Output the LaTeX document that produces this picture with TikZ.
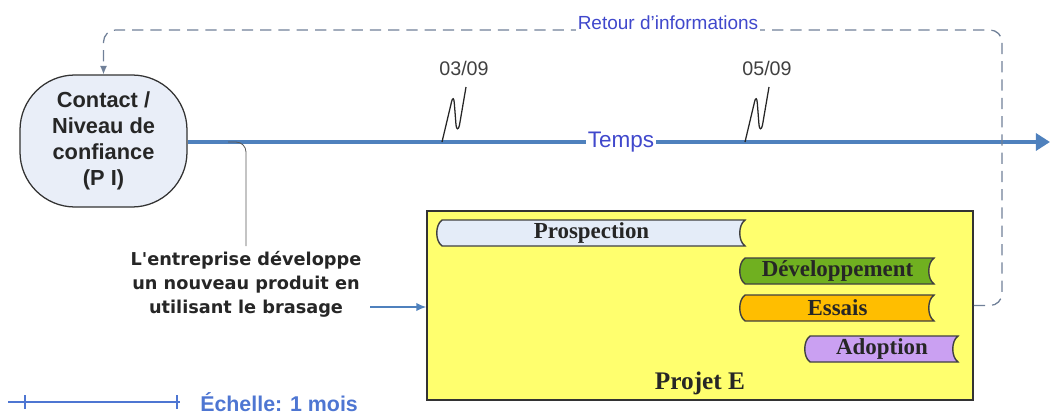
\documentclass[tikz,border=0pt]{standalone}
\usepackage{fontspec}
\setmainfont{Liberation Serif}
\setsansfont{Liberation Sans}
\newfontfamily\wideSans{DejaVu Sans}
\usetikzlibrary{arrows.meta}
\newlength{\pxu}
\setlength{\pxu}{0.025cm}
\definecolor{axisblue}{RGB}{79,129,189}
\definecolor{labelblue}{RGB}{64,72,204}
\definecolor{scaleblue}{RGB}{78,118,210}
\definecolor{dashgrey}{RGB}{112,128,152}
\definecolor{contactfill}{RGB}{233,238,248}
\definecolor{projetfill}{RGB}{255,255,110}
\definecolor{prospfill}{RGB}{228,236,248}
\definecolor{devfill}{RGB}{112,176,32}
\definecolor{essfill}{RGB}{255,190,0}
\definecolor{adoptfill}{RGB}{202,160,242}
\begin{document}
\begin{tikzpicture}[x=1\pxu,y=-1\pxu,
  contactbox/.style={draw=black!80,line width=0.9pt,fill=contactfill,rounded corners=55\pxu,
    minimum width=167\pxu,minimum height=132\pxu,align=center,
    font=\sffamily\bfseries\fontsize{15.5}{18.5}\selectfont,text=black!85},
  datelbl/.style={font=\sffamily\fontsize{14}{16}\selectfont,text=black!75},
  bluelbl/.style={font=\sffamily\fontsize{13.5}{16}\selectfont,text=labelblue,fill=white,inner sep=1pt},
  axis/.style={draw=axisblue,line width=2.8pt},
  squig/.style={draw=black!85,line width=0.9pt},
  feedback/.style={draw=dashgrey,line width=0.9pt,dash pattern=on 8pt off 5pt,rounded corners=12\pxu},
  barshape/.style={draw=black!75,line width=1pt},
  bartext/.style={font=\bfseries\fontsize{16.3}{18}\selectfont,text=black!85,inner sep=0pt},
  thinline/.style={draw=black!65,line width=0.6pt,rounded corners=10\pxu}]
\useasboundingbox (0,0) rectangle (1052,414);

% contact and time axis
\node[contactbox] (contact) at (103.5,141) {Contact /\\Niveau de\\confiance\\(P I)};
\coordinate (axisend) at (1050,142);
\coordinate (branch) at (228,142);
\draw[axis,-{Triangle[length=10pt,width=12pt]}] (contact.east |- axisend) -- (axisend);
\node[bluelbl,font=\sffamily\fontsize{16}{18}\selectfont] (temps) at (621,142) {Temps};

% dates on the axis
\foreach \n/\x/\d in {d1/442/{03/09},d2/745/{05/09}} {
  \coordinate (\n) at (\x,142);
  \draw[squig,shift={(\x,142)}] (0,0) -- (9.5,-40) .. controls (10.5,-45) and (12,-44) .. (12.3,-39)
     -- (14,-17) .. controls (14.5,-12) and (16.5,-12) .. (17.5,-17) -- (24,-55);
  \node[datelbl] (\n lbl) at (\x+22,68) {\d};
}

% project box
\node[draw=black!80,line width=1.2pt,fill=projetfill,minimum width=546\pxu,minimum height=189\pxu]
  (projet) at (700,305.5) {};

% feedback loop
\draw[feedback,-{Latex[length=6pt,width=5pt]}] (projet.east) -- (1002,305.5) -- (1002,30) -- (103.5,30) -- (contact.north);
\node[bluelbl] (retour) at (668,23) {Retour d'informations};

\foreach \n/\xa/\xb/\y/\c/\t in {prosp/442/745/233/prospfill/Prospection,
  dev/745/934/271/devfill/D\'eveloppement,ess/745/934/308/essfill/Essais,
  adopt/810/958/349/adoptfill/Adoption} {
  \path[barshape,fill=\c] (\xa,\y-13) .. controls (\xa-7,\y-8) and (\xa-7,\y+8) .. (\xa,\y+13)
     -- (\xb,\y+13) .. controls (\xb-7,\y+8) and (\xb-7,\y-8) .. (\xb,\y-13) -- cycle;
  \node[bartext] (\n) at ({(\xa+\xb)/2-2},\y) {\t};
}
\node[font=\bfseries\fontsize{18}{20}\selectfont,text=black!85] (projlbl) at (700,383) {Projet E};

% company text
\node[align=center,font=\wideSans\bfseries\fontsize{12.6}{17}\selectfont,text=black!85]
  (entreprise) at (246,284) {L'entreprise d\'eveloppe\\un nouveau produit en\\utilisant le brasage};
\draw[thinline] (branch) -| (entreprise.north);
\draw[draw=axisblue,line width=1pt,-{Latex[length=7pt,width=6pt]}] (entreprise.east |- 0,307) ++(4,0) -- (projet.west |- 0,307);

% scale
\coordinate (sc0) at (8,402);
\coordinate (sc1) at (180,402);
\draw[draw=scaleblue,line width=1pt] (sc0) -- (sc1) (25,395) -- (25,409) (177,395) -- (177,409);
\node[anchor=west,font=\sffamily\bfseries\fontsize{15.2}{17}\selectfont,text=scaleblue,inner sep=0pt]
  (echelle) at (200,402) {\'Echelle: 1 mois};
\end{tikzpicture}
\end{document}
